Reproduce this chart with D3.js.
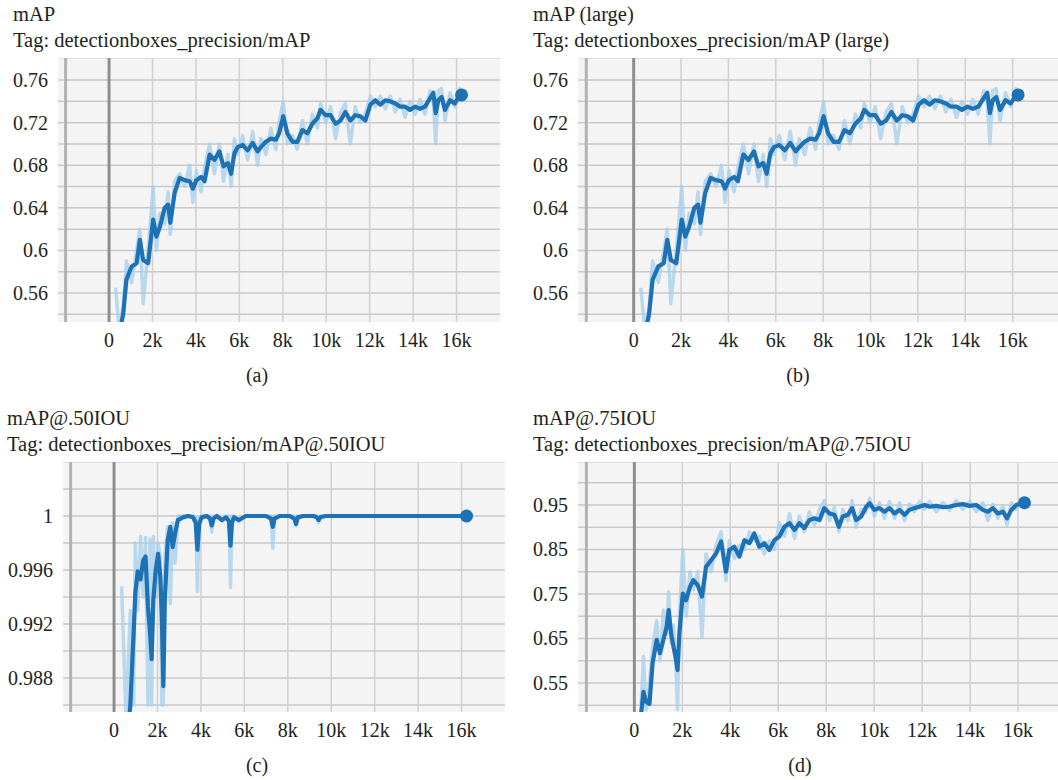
<!DOCTYPE html>
<html>
<head>
<meta charset="utf-8">
<script src="https://cdn.jsdelivr.net/npm/d3@7"></script>
<style>
  body { margin: 0; background: #fff; }
</style>
</head>
<body>
<script>
// *******************//
//        data         //
// *******************//

// mAP / mAP (large): the two curves are the same in the picture
const mapSteps = [300,450,650,800,1040,1270,1420,1570,1800,2030,2180,2340,2560,2720,2820,3020,3250,3480,3710,3860,
  4020,4240,4400,4630,4850,5080,5270,5470,5620,5770,5920,6150,6380,6610,6840,6990,7220,7450,7680,7830,
  8020,8210,8440,8670,8900,9130,9360,9590,9740,9970,10200,10430,10660,10880,11110,11340,11570,11800,12030,12260,
  12490,12720,12950,13180,13400,13630,13860,14090,14320,14550,14780,14930,15040,15160,15310,15470,15700,15920,16150,16230];
const mapSmooth = [0.500,0.520,0.540,0.5725,0.585,0.588,0.610,0.591,0.588,0.629,0.613,0.622,0.640,0.643,0.626,0.654,0.668,0.666,0.665,0.658,
  0.666,0.669,0.665,0.690,0.685,0.693,0.679,0.682,0.672,0.691,0.697,0.699,0.694,0.701,0.693,0.697,0.702,0.705,0.704,0.710,
  0.726,0.710,0.702,0.702,0.713,0.710,0.719,0.724,0.732,0.727,0.727,0.719,0.722,0.730,0.722,0.727,0.726,0.722,0.737,0.741,
  0.737,0.741,0.740,0.738,0.735,0.735,0.732,0.735,0.733,0.735,0.743,0.748,0.729,0.741,0.744,0.732,0.741,0.738,0.746,0.746];
const mapRaw = [0.565,0.530,0.545,0.590,0.570,0.600,0.620,0.550,0.600,0.660,0.600,0.635,0.625,0.655,0.615,0.665,0.672,0.660,0.680,0.645,
  0.675,0.655,0.678,0.700,0.672,0.700,0.665,0.690,0.660,0.705,0.690,0.708,0.685,0.712,0.680,0.705,0.690,0.715,0.695,0.720,
  0.740,0.700,0.708,0.695,0.722,0.700,0.728,0.715,0.738,0.720,0.735,0.705,0.730,0.738,0.700,0.735,0.720,0.728,0.745,0.735,
  0.745,0.733,0.745,0.730,0.742,0.725,0.740,0.728,0.742,0.728,0.750,0.740,0.700,0.750,0.752,0.722,0.748,0.735,0.752,0.745];
const mapLargeSteps = mapSteps;
const mapLargeSmooth = mapSmooth;
const mapLargeRaw = mapRaw;

// mAP@.50IOU
const iou50Steps = [350,550,750,900,980,1090,1220,1340,1450,1560,1660,1730,1810,1920,2030,2130,2200,2270,2340,2470,
  2590,2700,2810,2940,3170,3410,3640,3760,3840,3920,4030,4270,4420,4500,4580,4730,4970,5160,5290,5360,
  5430,5520,5750,6060,6530,7000,7230,7310,7390,7630,8090,8300,8380,8460,8720,9190,9340,9420,9500,9730,
  10500,12000,14000,16230];
const iou50Smooth = [0.980,0.982,0.986,0.9913,0.9943,0.9959,0.9953,0.9967,0.9970,0.9933,0.9913,0.9894,0.9938,0.9960,0.9972,0.9955,0.9926,0.9874,0.9938,0.9982,
  0.9992,0.9977,0.9987,0.9997,0.9999,1.0,0.9999,0.9995,0.9975,0.9994,0.9999,1.0,0.9998,0.9993,0.9998,1.0,0.9997,0.9999,0.9996,0.9978,
  0.9995,0.9999,0.9997,1.0,1.0,1.0,0.9998,0.9992,0.9998,1.0,1.0,0.9998,0.9994,0.9999,1.0,1.0,0.9999,0.9997,0.9999,1.0,
  1.0,1.0,1.0,1.0];
const iou50Raw = [0.9948,0.985,0.993,0.986,0.998,0.993,0.9985,0.994,0.9984,0.986,0.9983,0.986,0.9985,0.994,0.998,0.997,0.986,0.986,0.997,0.9992,
  0.9935,0.9995,0.9965,1.0,1.0,1.0,1.0,0.9999,0.9944,0.9999,1.0,1.0,1.0,0.9988,1.0,1.0,0.9996,1.0,1.0,0.9947,
  1.0,1.0,0.9996,1.0,1.0,1.0,1.0,0.9976,1.0,1.0,1.0,1.0,0.9993,1.0,1.0,1.0,1.0,0.9995,1.0,1.0,
  1.0,1.0,1.0,1.0];

// mAP@.75IOU
const iou75Steps = [280,380,490,630,760,930,1070,1210,1350,1430,1530,1630,1740,1800,1880,2020,2160,2320,2460,2640,
  2820,2990,3200,3410,3620,3820,3960,4170,4380,4590,4800,5000,5210,5420,5630,5840,6050,6260,6470,6680,
  6880,7090,7300,7510,7720,7920,8140,8340,8530,8690,8900,9080,9250,9460,9670,9810,10010,10220,10430,10640,
  10850,11060,11270,11470,11680,11890,12100,12310,12590,12870,13140,13420,13700,13980,14260,14530,14740,14950,15160,15370,
  15540,15720,15930,16140,16270];
const iou75Smooth = [0.480,0.530,0.508,0.503,0.594,0.647,0.617,0.647,0.677,0.714,0.662,0.632,0.602,0.579,0.662,0.751,0.736,0.766,0.781,0.770,
  0.744,0.811,0.826,0.841,0.868,0.800,0.849,0.856,0.834,0.871,0.864,0.886,0.856,0.864,0.849,0.871,0.879,0.901,0.909,0.894,
  0.909,0.898,0.916,0.920,0.916,0.943,0.931,0.928,0.901,0.924,0.928,0.943,0.916,0.924,0.946,0.954,0.939,0.943,0.935,0.943,
  0.931,0.939,0.928,0.939,0.943,0.946,0.950,0.946,0.948,0.945,0.946,0.950,0.952,0.948,0.950,0.939,0.935,0.943,0.931,0.935,
  0.920,0.939,0.950,0.954,0.955];
const iou75Raw = [0.50,0.61,0.49,0.55,0.63,0.69,0.60,0.714,0.66,0.755,0.64,0.68,0.58,0.49,0.70,0.85,0.70,0.80,0.76,0.80,
  0.654,0.84,0.80,0.86,0.89,0.78,0.87,0.83,0.86,0.85,0.89,0.87,0.88,0.84,0.87,0.85,0.91,0.88,0.93,0.875,
  0.925,0.89,0.935,0.905,0.94,0.96,0.915,0.945,0.89,0.94,0.915,0.96,0.90,0.94,0.935,0.965,0.925,0.955,0.92,0.958,
  0.92,0.955,0.915,0.952,0.935,0.958,0.94,0.958,0.935,0.956,0.938,0.96,0.94,0.958,0.935,0.955,0.915,0.952,0.92,0.948,
  0.905,0.955,0.94,0.962,0.955];

const xTicks = [0,2000,4000,6000,8000,10000,12000,14000,16000];
const xGrid = [-2000,0,2000,4000,6000,8000,10000,12000,14000,16000,18000];
const mapYTicks = [0.56,0.60,0.64,0.68,0.72,0.76];
const mapYGrid = [0.54,0.56,0.58,0.60,0.62,0.64,0.66,0.68,0.70,0.72,0.74,0.76];
const iou50YTicks = [0.988,0.992,0.996,1];
const iou50YGrid = [0.986,0.988,0.990,0.992,0.994,0.996,0.998,1.0,1.002];
const iou75YTicks = [0.55,0.65,0.75,0.85,0.95];
const iou75YGrid = [0.50,0.55,0.60,0.65,0.70,0.75,0.80,0.85,0.90,0.95,1.0];

const SERIF = "'Liberation Serif', 'DejaVu Serif', serif";

// *******************//
//    Scalar Plot      //
// *******************//

class ScalarPlot {
  constructor(svg, id, opts) {
    this.svg = svg;
    this.id = id;
    this.opts = opts;

    this.x = d3.scaleLinear().domain([-2350, 18000]).range([opts.left, opts.left + opts.plotWidth]);
    this.y = d3.scaleLinear().domain(opts.yDomain).range([opts.bottom, opts.top]);
  }

  label(g, x, y, size, txt) {
    return g.append("text")
        .attr("x", x).attr("y", y)
        .attr("font-family", SERIF).attr("font-size", size)
        .attr("fill", "#231f20")
        .text(txt);
  }

  show() {
    const o = this.opts, x = this.x, y = this.y;
    const g = this.svg.append("g");
    const right = Math.min(o.left + o.plotWidth, 1058);

    this.label(g, o.titleX, o.top - 37, 20.5, o.title);
    this.label(g, o.titleX, o.top - 11, 20.5, o.tag);

    g.append("rect")
        .attr("x", o.left).attr("y", o.top)
        .attr("width", right - o.left).attr("height", o.bottom - o.top)
        .attr("fill", "#f4f4f4");

    g.append("clipPath").attr("id", "clip-" + this.id)
      .append("rect")
        .attr("x", o.left).attr("y", o.top)
        .attr("width", right - o.left).attr("height", o.bottom - o.top);

    // grid
    g.selectAll(".hgrid").data(o.yGrid).join("line")
        .attr("x1", o.left).attr("x2", right)
        .attr("y1", d => y(d)).attr("y2", d => y(d))
        .attr("stroke", "#c9c9c9").attr("stroke-width", 1.5);
    g.append("line")
        .attr("x1", o.left).attr("x2", right).attr("y1", o.top + 0.5).attr("y2", o.top + 0.5)
        .attr("stroke", "#dedede").attr("stroke-width", 1);
    g.selectAll(".vgrid").data(xGrid.filter(d => x(d) < right)).join("line")
        .attr("x1", d => x(d)).attr("x2", d => x(d))
        .attr("y1", o.top).attr("y2", o.bottom)
        .attr("stroke", d => d === 0 ? "#8e8e8e" : (d < 0 ? "#b2b2b2" : "#d0d0d0"))
        .attr("stroke-width", d => d <= 0 ? 3 : 1.5);

    // ticks
    o.yTicks.forEach(d => {
      this.label(g, o.left - 10, y(d), 20, String(d)).attr("dy", "0.35em").attr("text-anchor", "end");
    });
    xTicks.forEach(d => {
      this.label(g, x(d), o.bottom + 25, 20, d === 0 ? "0" : (d / 1000) + "k").attr("text-anchor", "middle");
    });
    this.label(g, o.captionX, o.bottom + 60, 20, o.caption).attr("text-anchor", "middle");

    // series
    const pts = (steps, vals) => steps.map((s, i) => [s, vals[i]]);
    const line = d3.line().x(d => x(d[0])).y(d => y(d[1]));
    const plot = g.append("g").attr("clip-path", "url(#clip-" + this.id + ")");

    plot.append("path").datum(pts(o.steps, o.raw))
        .attr("d", line).attr("fill", "none")
        .attr("stroke", "#a6cfec").attr("stroke-width", 3.5).attr("stroke-opacity", 0.75)
        .attr("stroke-linejoin", "round");
    const smooth = pts(o.steps, o.smooth);
    plot.append("path").datum(smooth)
        .attr("d", line).attr("fill", "none")
        .attr("stroke", "#1d71b5").attr("stroke-width", 4.2).attr("stroke-linejoin", "round");
    const last = smooth[smooth.length - 1];
    plot.append("circle").attr("cx", x(last[0])).attr("cy", y(last[1])).attr("r", 6.5).attr("fill", "#1d71b5");
  }
}

function whenDocumentLoaded(action) {
  if (document.readyState === "loading") {
    document.addEventListener("DOMContentLoaded", action);
  } else {
    action();
  }
}

whenDocumentLoaded(() => {
  const svg = d3.select("body").append("svg").attr("width", 1058).attr("height", 780);

  new ScalarPlot(svg, "a", {
    title: "mAP", tag: "Tag: detectionboxes_precision/mAP", caption: "(a)",
    steps: mapSteps, smooth: mapSmooth, raw: mapRaw,
    yDomain: [0.5328, 0.7807], yTicks: mapYTicks, yGrid: mapYGrid,
    left: 58, plotWidth: 442, top: 58, bottom: 322, titleX: 13, captionX: 257
  }).show();

  new ScalarPlot(svg, "b", {
    title: "mAP (large)", tag: "Tag: detectionboxes_precision/mAP (large)", caption: "(b)",
    steps: mapLargeSteps, smooth: mapLargeSmooth, raw: mapLargeRaw,
    yDomain: [0.5328, 0.7807], yTicks: mapYTicks, yGrid: mapYGrid,
    left: 578, plotWidth: 482, top: 58, bottom: 322, titleX: 533, captionX: 798
  }).show();

  new ScalarPlot(svg, "c", {
    title: "mAP@.50IOU", tag: "Tag: detectionboxes_precision/mAP@.50IOU", caption: "(c)",
    steps: iou50Steps, smooth: iou50Smooth, raw: iou50Raw,
    yDomain: [0.98548, 1.004], yTicks: iou50YTicks, yGrid: iou50YGrid,
    left: 63, plotWidth: 442, top: 462, bottom: 712, titleX: 7, captionX: 257
  }).show();

  new ScalarPlot(svg, "d", {
    title: "mAP@.75IOU", tag: "Tag: detectionboxes_precision/mAP@.75IOU", caption: "(d)",
    steps: iou75Steps, smooth: iou75Smooth, raw: iou75Raw,
    yDomain: [0.4848, 1.0466], yTicks: iou75YTicks, yGrid: iou75YGrid,
    left: 578, plotWidth: 488, top: 462, bottom: 712, titleX: 533, captionX: 800
  }).show();
});
</script>
</body>
</html>
